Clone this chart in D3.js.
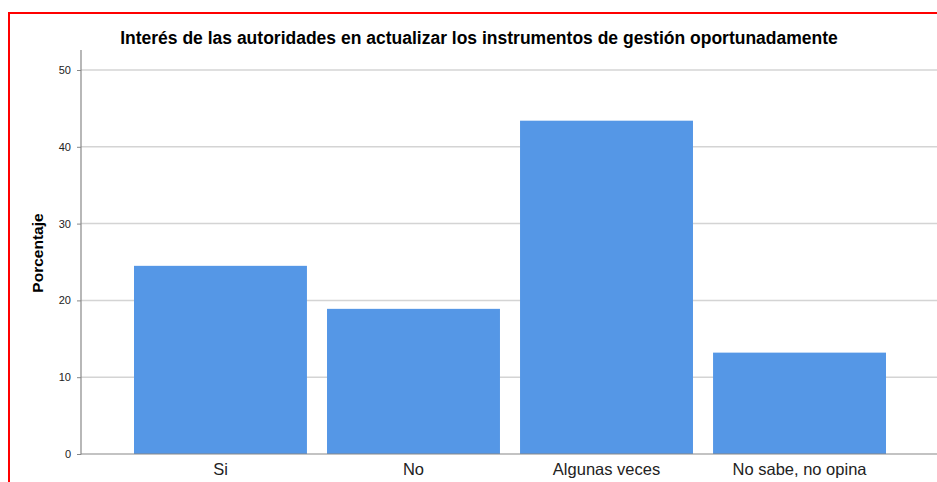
<!DOCTYPE html>
<html>
<head>
    <script type="text/javascript" src="https://d3js.org/d3.v7.min.js"></script>
    <style>
        body { margin: 0; background: #ffffff; }
        text { font-family: "Liberation Sans", Arial, sans-serif; }
    </style>
</head>
<body>
    <svg width="937" height="482"></svg>
    <script>
        // chart values
        const categories = ["Si", "No", "Algunas veces", "No sabe, no opina"];
        const percentages = [24.5, 18.9, 43.4, 13.2];
        const yTicks = [0, 10, 20, 30, 40, 50];

        const svg = d3.select("svg");

        // red frame around the chart
        svg.append("rect")
            .attr("x", 9).attr("y", 13)
            .attr("width", 960).attr("height", 500)
            .attr("fill", "none")
            .attr("stroke", "#ff0000")
            .attr("stroke-width", 2);

        const x = d3.scaleBand()
            .domain(categories)
            .range([134, 886])
            .paddingInner(0.104)
            .paddingOuter(0);

        const y = d3.scaleLinear()
            .domain([0, 50])
            .range([454, 70]);

        // gridlines
        svg.append("g")
            .selectAll("line")
            .data(yTicks.filter(d => d > 0))
            .enter()
            .append("line")
            .attr("x1", 81).attr("x2", 937)
            .attr("y1", d => y(d)).attr("y2", d => y(d))
            .attr("stroke", "#d4d4d4")
            .attr("stroke-width", 1.5);

        // bars
        svg.append("g")
            .selectAll("rect")
            .data(percentages)
            .enter()
            .append("rect")
            .attr("x", (d, i) => x(categories[i]))
            .attr("y", d => y(d))
            .attr("width", x.bandwidth())
            .attr("height", d => y(0) - y(d))
            .attr("fill", "#5597e6");

        // y axis
        const yAxis = svg.append("g")
            .attr("transform", "translate(81,0)")
            .call(d3.axisLeft(y).tickValues(yTicks).tickSize(4).tickPadding(6));
        yAxis.select(".domain").remove();
        yAxis.selectAll(".tick line").attr("stroke", "#888");
        yAxis.selectAll("text").attr("font-size", 11).attr("fill", "#222");
        svg.append("line")
            .attr("x1", 81).attr("x2", 81)
            .attr("y1", 50).attr("y2", 454.5)
            .attr("stroke", "#888").attr("stroke-width", 1.2);

        // x axis
        const xAxis = svg.append("g")
            .attr("transform", "translate(0,454)")
            .call(d3.axisBottom(x).tickSize(0).tickPadding(9));
        xAxis.select(".domain").remove();
        xAxis.selectAll("text").attr("font-size", 16.5).attr("fill", "#222");
        svg.append("line")
            .attr("x1", 81).attr("x2", 937)
            .attr("y1", 454).attr("y2", 454)
            .attr("stroke", "#888").attr("stroke-width", 1.2);

        // title
        svg.append("text")
            .attr("x", 479).attr("y", 44)
            .attr("text-anchor", "middle")
            .attr("font-size", 17.5)
            .attr("font-weight", "bold")
            .attr("fill", "#000")
            .text("Interés de las autoridades en actualizar los instrumentos de gestión oportunadamente");

        // y label
        svg.append("text")
            .attr("transform", "translate(43,253) rotate(-90)")
            .attr("text-anchor", "middle")
            .attr("font-size", 15.5)
            .attr("font-weight", "bold")
            .attr("fill", "#000")
            .text("Porcentaje");
    </script>
</body>
</html>
